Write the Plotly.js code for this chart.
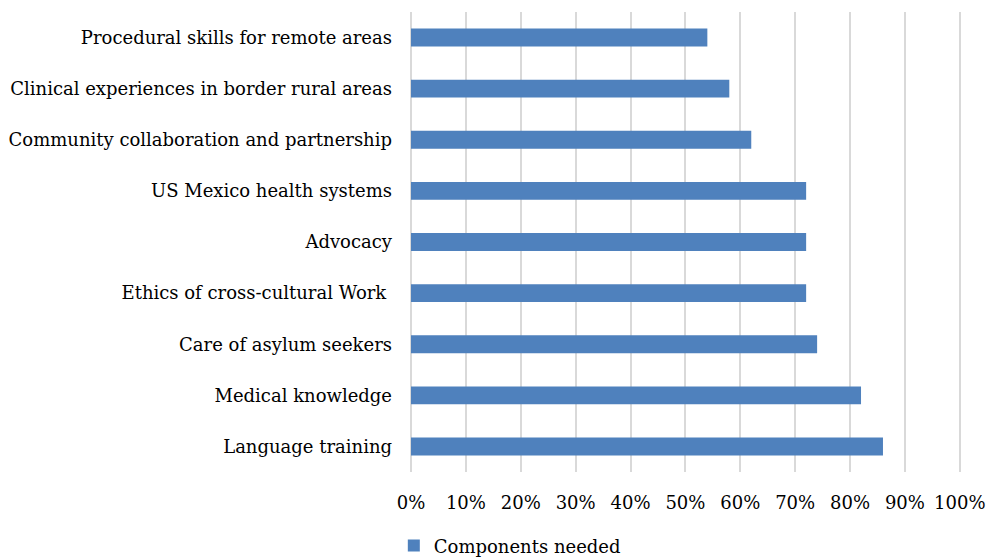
<!DOCTYPE html>
<html><head><meta charset="utf-8">
<script src="https://cdn.plot.ly/plotly-3.0.1.min.js"></script>
<style>html,body{margin:0;padding:0;background:#fff}#chart{width:987px;height:557px}</style>
</head><body><div id="chart"></div>
<script>
const categories = [
  "Language training",
  "Medical knowledge",
  "Care of asylum seekers",
  "Ethics of cross-cultural Work ",
  "Advocacy",
  "US Mexico health systems",
  "Community collaboration and partnership",
  "Clinical experiences in border rural areas",
  "Procedural skills for remote areas"
];
const values = [0.86, 0.82, 0.74, 0.72, 0.72, 0.72, 0.62, 0.58, 0.54];
const seriesName = "Components needed";
const tickVals = [0,0.1,0.2,0.3,0.4,0.5,0.6,0.7,0.8,0.9,1.0];
const tickText = ["0%","10%","20%","30%","40%","50%","60%","70%","80%","90%","100%"];

const fontFam = "'DejaVu Serif', 'Liberation Serif', serif";
Plotly.newPlot('chart', [{
  type: 'bar', orientation: 'h', y: categories, x: values, name: seriesName,
  marker: {color: '#4f81bd', line: {width: 0}}, showlegend: true, hoverinfo: 'none'
}], {
  width: 987, height: 557,
  margin: {l: 411, r: 25, t: 12, b: 85},
  paper_bgcolor: '#fff', plot_bgcolor: '#fff',
  font: {family: fontFam, size: 18, color: '#000'},
  bargap: 0.65,
  showlegend: true,
  legend: {orientation: 'h', xref: 'container', yref: 'container', x: 0.399, xanchor: 'left', y: 0.02, yanchor: 'middle', font: {size: 18}},
  xaxis: {range: [0, 1.004], tickvals: tickVals, ticktext: tickText, showgrid: true, gridcolor: '#d9d9d9', gridwidth: 2, zeroline: true, zerolinecolor: '#d9d9d9', zerolinewidth: 2, showline: false, ticks: '', ticklabelstandoff: 18, fixedrange: true},
  yaxis: {type: 'category', showgrid: false, zeroline: false, showline: false, ticks: '', ticklabelstandoff: 18, fixedrange: true}
}, {staticPlot: true});
</script></body></html>
